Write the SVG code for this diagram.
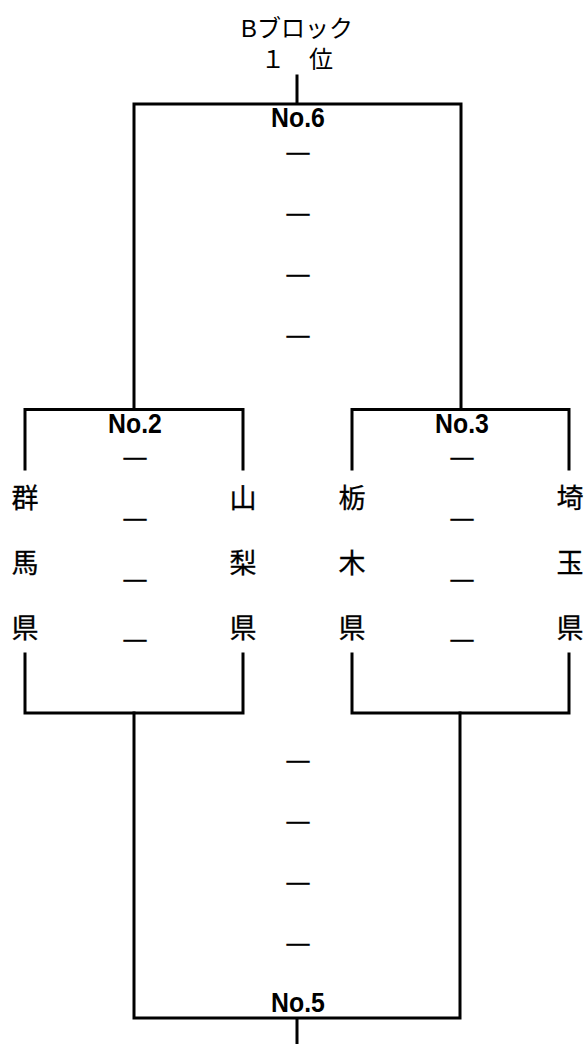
<svg xmlns="http://www.w3.org/2000/svg" width="586" height="1044" viewBox="0 0 586 1044">
<style>
.ln{fill:none;stroke:#000;stroke-width:3;stroke-linecap:square}
.no{font-family:"Liberation Sans",Arial,sans-serif;font-weight:bold;font-size:27px;text-anchor:middle;fill:#000}
.jp{font-family:"Noto Sans CJK JP",sans-serif;font-size:27px;text-anchor:middle;dominant-baseline:central;fill:#000;stroke:#000;stroke-width:0.3}
.ds{font-family:"Noto Sans CJK JP",sans-serif;font-size:26px;text-anchor:middle;dominant-baseline:central;fill:#000;stroke:#000;stroke-width:0.4}
.hd{font-family:"Liberation Sans","Noto Sans CJK JP",sans-serif;font-size:24px;text-anchor:middle;fill:#000}
</style>
<rect width="586" height="1044" fill="#fff"/>
<g id="connectors">
<path class="ln" d="M297,76 V104 M134,408 V104 H461 V408"/>
<path class="ln" d="M25,469 V409.5 H243 V469 M352,469 V409.5 H569 V469"/>
<path class="ln" d="M25,654 V713 H243 V654 M352,654 V713 H569 V654"/>
<path class="ln" d="M134,713 V1018 H460 V713 M297,1018 V1044"/>
</g>
<g id="top">
<text class="hd" x="297" y="37">Bブロック</text>
<text class="hd" x="297" y="68">１　位</text>
</g>
<g id="m6">
<text class="no" transform="translate(298,127) scale(0.92,1)">No.6</text>
<text class="ds" transform="translate(298,150) scale(1.1,1)">—</text>
<text class="ds" transform="translate(298,211) scale(1.1,1)">—</text>
<text class="ds" transform="translate(298,272) scale(1.1,1)">—</text>
<text class="ds" transform="translate(298,333) scale(1.1,1)">—</text>
</g>
<g id="m2">
<text class="no" transform="translate(135,433) scale(0.92,1)">No.2</text>
<text class="ds" transform="translate(135,455) scale(1.1,1)">—</text>
<text class="ds" transform="translate(135,516) scale(1.1,1)">—</text>
<text class="ds" transform="translate(135,577) scale(1.1,1)">—</text>
<text class="ds" transform="translate(135,637) scale(1.1,1)">—</text>
</g>
<g id="m3">
<text class="no" transform="translate(462,433) scale(0.92,1)">No.3</text>
<text class="ds" transform="translate(462,455) scale(1.1,1)">—</text>
<text class="ds" transform="translate(462,516) scale(1.1,1)">—</text>
<text class="ds" transform="translate(462,577) scale(1.1,1)">—</text>
<text class="ds" transform="translate(462,637) scale(1.1,1)">—</text>
</g>
<g id="m5">
<text class="ds" transform="translate(298,758) scale(1.1,1)">—</text>
<text class="ds" transform="translate(298,819) scale(1.1,1)">—</text>
<text class="ds" transform="translate(298,880) scale(1.1,1)">—</text>
<text class="ds" transform="translate(298,941) scale(1.1,1)">—</text>
<text class="no" transform="translate(298,1012) scale(0.92,1)">No.5</text>
</g>
<g id="gunma">
<text class="jp" x="25" y="496">群</text>
<text class="jp" x="25" y="561">馬</text>
<text class="jp" x="25" y="626">県</text>
</g>
<g id="yamanashi">
<text class="jp" x="243" y="496">山</text>
<text class="jp" x="243" y="561">梨</text>
<text class="jp" x="243" y="626">県</text>
</g>
<g id="tochigi">
<text class="jp" x="352" y="496">栃</text>
<text class="jp" x="352" y="561">木</text>
<text class="jp" x="352" y="626">県</text>
</g>
<g id="saitama">
<text class="jp" x="570" y="496">埼</text>
<text class="jp" x="570" y="561">玉</text>
<text class="jp" x="570" y="626">県</text>
</g>
</svg>
